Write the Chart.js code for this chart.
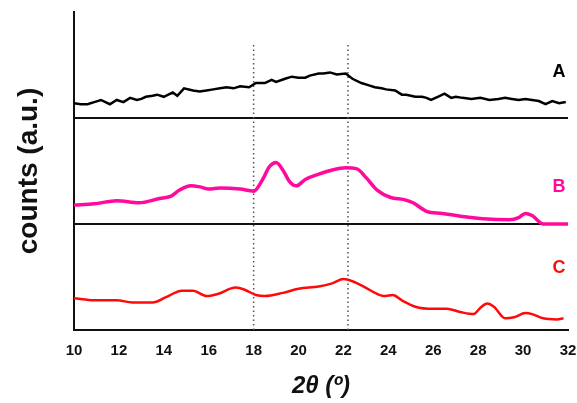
<!DOCTYPE html>
<html>
<head>
<meta charset="utf-8">
<script src="https://cdn.jsdelivr.net/npm/chart.js@4"></script>
<style>
  html, body { margin: 0; padding: 0; background: #fff; }
  #wrap { width: 577px; height: 403px; }
</style>
</head>
<body>
<div id="wrap"><canvas id="c" width="577" height="403"></canvas></div>
<script>
// ---- data (2θ in degrees, counts in arbitrary units; each panel = 100 units) ----
const thetaA  = [10.0,10.3,10.6,10.9,11.2,11.4,11.6,11.9,12.2,12.5,12.8,13.0,13.2,13.5,13.7,14.0,14.2,14.4,14.6,14.9,15.3,15.6,15.9,16.2,16.5,16.8,17.1,17.4,17.8,18.1,18.5,18.8,19.0,19.4,19.7,20.0,20.3,20.5,20.9,21.1,21.4,21.7,22.1,22.4,22.8,23.1,23.4,23.7,23.9,24.3,24.6,24.8,25.2,25.5,25.7,25.9,26.2,26.5,26.8,27.0,27.3,27.7,28.1,28.5,28.9,29.2,29.5,29.8,30.1,30.4,30.7,31.0,31.3,31.6,31.9];
const countsA = [14,13,13,15,17,15,13,17,15,19,17,18,20,21,22,20,22,24,21,28,26,25,26,27,28,29,28,30,29,33,33,36,34,37,39,38,38,40,42,42,43,41,42,37,33,31,29,28,27,26,22,22,20,20,19,17,20,23,19,20,19,18,19,17,18,19,18,17,18,17,16,13,16,14,15];

const thetaB  = [10.0,10.9,11.9,12.9,13.8,14.3,14.7,15.2,15.6,16.0,16.5,17.4,18.0,18.4,18.7,19.0,19.3,19.6,19.9,20.3,20.9,21.5,22.1,22.6,23.0,23.5,24.1,24.7,25.1,25.7,26.4,27.3,28.2,29.4,29.8,30.1,30.4,30.9,31.3,32.0];
const countsB = [18,19,22,20,24,26,32,36,35,33,34,33,31,42,54,58,51,40,36,42,47,51,53,52,44,32,25,23,20,12,10,7,5,4,6,10,8,0,0,0];

const thetaC  = [10.0,10.9,11.9,12.6,13.5,14.1,14.8,15.3,15.9,16.4,17.2,17.6,18.1,18.5,19.3,20.0,20.9,21.5,22.0,22.4,22.9,23.5,23.8,24.2,24.6,25.2,26.0,26.6,27.2,27.8,28.1,28.4,28.7,29.2,29.6,30.1,30.4,30.9,31.5,31.8];
const countsC = [30,28,28,26,26,31,37,37,32,34,40,38,33,32,35,39,41,44,48,46,41,34,32,33,28,22,20,20,17,15,21,25,22,11,12,16,15,11,10,11];

const offsetA = 200, offsetB = 100, offsetC = 0;
const refLines = [18, 22.2];          // dotted reference positions (2θ)
const refTop = 271;                    // height reached by the dotted lines
const separators = [100, 200];         // panel separators
const seriesLabels = ['A', 'B', 'C'];
const labelX = 31.6;
const labelY = [243, 135, 58];

const colA = '#000000', colB = '#ff0a9c', colC = '#ff0a0a';

function pts(xs, ys, off) { return xs.map((x, i) => ({ x: x, y: ys[i] + off })); }

const datasets = [
  { data: pts(thetaA, countsA, offsetA), borderColor: colA, borderWidth: 2.5, tension: 0, pointRadius: 0 },
  { data: pts(thetaB, countsB, offsetB), borderColor: colB, borderWidth: 3.5, tension: 0.4, cubicInterpolationMode: 'monotone', pointRadius: 0 },
  { data: pts(thetaC, countsC, offsetC), borderColor: colC, borderWidth: 2.5, tension: 0.4, cubicInterpolationMode: 'monotone', pointRadius: 0 }
];
refLines.forEach(v => datasets.push({
  data: [{ x: v, y: 0 }, { x: v, y: refTop }],
  borderColor: '#555', borderWidth: 1.5, borderDash: [1.5, 3], pointRadius: 0
}));

const labelPlugin = {
  id: 'seriesLabels',
  afterDatasetsDraw(chart) {
    const ctx = chart.ctx, xs = chart.scales.x, ys = chart.scales.y;
    const cols = [colA, colB, colC];
    ctx.save();
    ctx.font = 'bold 18px "Liberation Sans", Arial, sans-serif';
    ctx.textAlign = 'center';
    ctx.textBaseline = 'middle';
    seriesLabels.forEach((t, i) => {
      ctx.fillStyle = cols[i];
      ctx.fillText(t, xs.getPixelForValue(labelX), ys.getPixelForValue(labelY[i]));
    });
    ctx.restore();
  }
};

new Chart(document.getElementById('c'), {
  type: 'line',
  data: { datasets: datasets },
  plugins: [labelPlugin],
  options: {
    responsive: false,
    animation: false,
    layout: { padding: { top: 12, right: 9, left: 0, bottom: 0 } },
    plugins: { legend: { display: false }, tooltip: { enabled: false } },
    scales: {
      x: {
        type: 'linear', min: 10, max: 32,
        ticks: { stepSize: 2, color: '#111', padding: 12,
                 font: { family: '"Liberation Sans", Arial, sans-serif', size: 15, weight: 'bold' } },
        grid: { display: false, drawTicks: false },
        border: { display: true, color: '#111', width: 2 },
        title: { display: true, text: '2θ (º)', color: '#111',
                 font: { family: '"Liberation Sans", Arial, sans-serif', size: 24, weight: 'bold', style: 'italic' },
                 padding: { top: 0, bottom: 2 } },
        afterFit(s) { s.height = 73; s.paddingLeft = 0; s.paddingRight = 0; }
      },
      y: {
        type: 'linear', min: 0, max: 300,
        ticks: { display: false, stepSize: 100 },
        grid: {
          drawTicks: false,
          color: c => separators.includes(c.tick.value) ? '#111' : 'rgba(0,0,0,0)',
          lineWidth: 2
        },
        border: { display: true, color: '#111', width: 2 },
        title: { display: true, text: 'counts (a.u.)', color: '#111',
                 font: { family: '"Liberation Sans", Arial, sans-serif', size: 28, weight: 'bold' },
                 padding: { top: 12, bottom: 0 } },
        afterFit(s) { s.width = 74; }
      }
    }
  }
});
</script>
</body>
</html>
